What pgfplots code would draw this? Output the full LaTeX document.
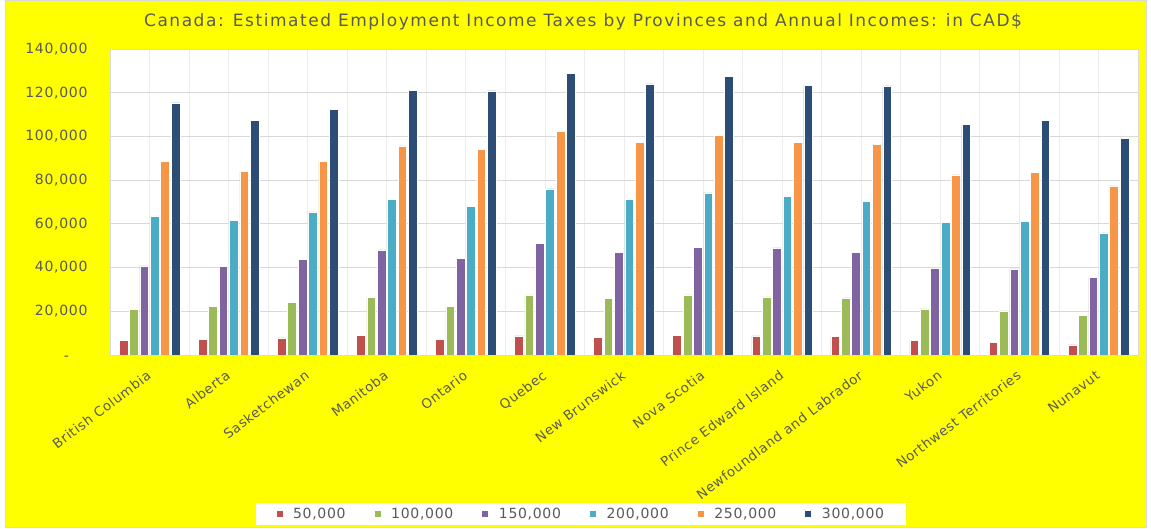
\documentclass[border=0pt]{standalone}
\usepackage{pgfplots}
\pgfplotsset{compat=1.18}
\usepackage{pgfplotstable}
\usepackage{fontspec}
\setmainfont{DejaVu Sans}
\newfontfamily\titlefont[LetterSpace=9]{DejaVu Sans}
\newfontfamily\tickfont[LetterSpace=5]{DejaVu Sans}
\definecolor{c1}{HTML}{C0504D}
\definecolor{c2}{HTML}{9BBB59}
\definecolor{c3}{HTML}{8064A2}
\definecolor{c4}{HTML}{4BACC6}
\definecolor{c5}{HTML}{F79646}
\definecolor{c6}{HTML}{2C4D75}
\definecolor{txt}{HTML}{595959}
\definecolor{bg}{HTML}{FFFF00}
\pgfplotstableread{
x a b c d e f
0 6700 20800 40800 63400 88400 115300
1 7200 22300 40500 61700 84000 107500
2 7800 24000 43800 65500 88400 112200
3 9000 26400 48100 71300 95700 121200
4 7200 22400 44300 68100 94000 120800
5 8700 27500 51100 76000 102300 128700
6 8100 25800 47000 71300 97100 124000
7 9000 27500 49300 74200 100500 127500
8 8700 26600 49000 72500 97400 123400
9 8500 26100 47000 70400 96300 123100
10 6700 21100 39500 60500 82400 105500
11 5800 20200 39400 61100 83700 107200
12 4600 18200 35600 55900 77400 99200
}\datatable
\begin{document}
\begin{tikzpicture}[x=1pt,y=1pt]
\useasboundingbox (0,0) rectangle (1151,529);
\fill[white] (0,0) rectangle (1151,529);
\draw[draw=black!15, fill=bg, line width=1pt] (5,1) rectangle (1146,528);
\node[text=txt, font=\titlefont\fontsize{17}{20}\selectfont] at (583,507) {Canada: Estimated Employment Income Taxes by Provinces and Annual Incomes: in CAD\$};
\begin{axis}[
  at={(110pt,174pt)}, anchor=south west,
  scale only axis, width=1028pt, height=306pt,
  xmin=-0.5, xmax=12.5, ymin=0, ymax=140000,
  axis background/.style={fill=white},
  ybar=1.7pt, bar width=8.7pt,
  xtick={0,...,12}, minor xtick={-0.5,0.5,...,12.5},
  xmajorgrids, xminorgrids, ymajorgrids,
  x grid style={draw=black!7, line width=0.8pt},
  y grid style={draw=black!15, line width=0.8pt},
  axis line style={draw=black!15, line width=0.8pt},
  tick style={draw=none},
  scaled y ticks=false,
  ytick={0,20000,...,140000},
  yticklabels={{-\phantom{00}},{20,000},{40,000},{60,000},{80,000},{100,000},{120,000},{140,000}},
  yticklabel style={text=txt, font=\tickfont\fontsize{14}{16}\selectfont, xshift=-19pt},
  xticklabels={British Columbia,Alberta,Sasketchewan,Manitoba,Ontario,Quebec,New Brunswick,Nova Scotia,Prince Edward Island,Newfoundland and Labrador,Yukon,Northwest Territories,Nunavut},
  xticklabel style={text=txt, font=\tickfont\fontsize{13.3}{15}\selectfont, rotate=37, anchor=north east, inner sep=1pt, yshift=-5pt, xshift=-8pt},
  legend columns=6,
  legend style={at={(0.458,-0.5196)}, anchor=center, draw=none, fill=white, text=txt,
    font=\tickfont\fontsize{14}{16}\selectfont, inner xsep=20pt, inner ysep=3pt,
    /tikz/every even column/.append style={column sep=26pt},
    /tikz/every odd column/.append style={column sep=8pt}},
  legend image code/.code={\fill[#1] (0pt,-3.5pt) rectangle (7pt,3.5pt);},
  every axis plot/.append style={draw=white, line width=0.6pt},
]
\addplot[fill=c1] table[x=x,y=a]{\datatable};
\addplot[fill=c2] table[x=x,y=b]{\datatable};
\addplot[fill=c3] table[x=x,y=c]{\datatable};
\addplot[fill=c4] table[x=x,y=d]{\datatable};
\addplot[fill=c5] table[x=x,y=e]{\datatable};
\addplot[fill=c6] table[x=x,y=f]{\datatable};
\legend{{50,000},{100,000},{150,000},{200,000},{250,000},{300,000}}
\end{axis}
\end{tikzpicture}
\end{document}
